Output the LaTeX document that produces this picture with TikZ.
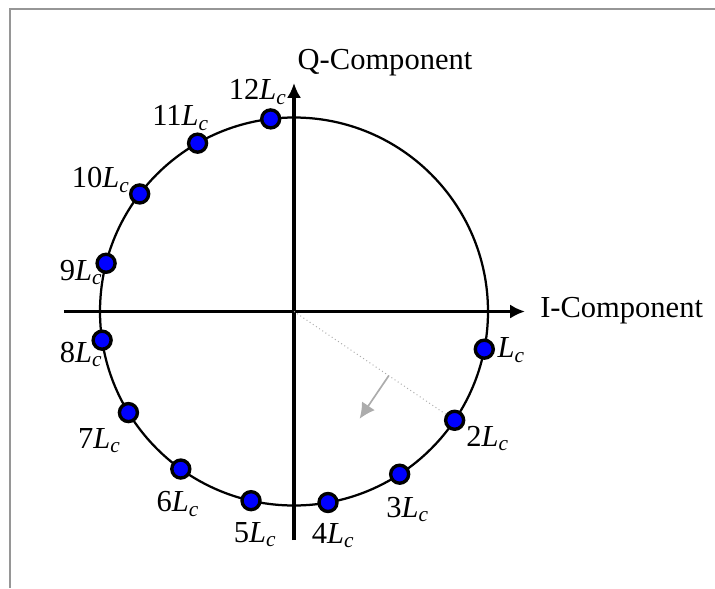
\documentclass[tikz,border=0pt]{standalone}
\usepackage{fontspec}
\setmainfont{Liberation Serif}
\usetikzlibrary{positioning,calc}
\usetikzlibrary{arrows.meta}
\definecolor{DotBlue}{RGB}{0,0,255}
\definecolor{FrameGray}{RGB}{150,150,150}
\definecolor{HintGray}{RGB}{172,172,172}
\newcommand{\Lc}{\textit{L}\textsubscript{\textit{c}}}
\tikzset{
  axis/.style={draw=black,line width=2.8pt,-{Latex[length=10.5pt,width=10pt]}},
  ring/.style={draw=black,line width=1.6pt},
  pt/.style={circle,draw=black,fill=DotBlue,line width=2.4pt,minimum size=12.8pt,inner sep=0pt},
  lbl/.style={font=\fontsize{21.7}{26}\selectfont,inner sep=0pt},
  radial/.style={draw=HintGray,line width=0.7pt,dotted},
  turn/.style={draw=HintGray,line width=1.2pt,-{Latex[length=11pt,width=11pt]}},
}

\begin{document}
\begin{tikzpicture}[x=0.025cm,y=0.025cm]
\useasboundingbox (-294,-276.5) rectangle (421,311.5);
\draw[FrameGray,line width=1.8pt] (421,302.5)--(-284,302.5)--(-284,-276.5);
\coordinate (o) at (0,0);
\coordinate (xl) at (-230,0);
\coordinate (xr) at (231,0);
\coordinate (yb) at (0,-228.5);
\coordinate (yt) at (0,228.5);
\coordinate (p1) at (-11.2:194);
\coordinate (p2) at (-34.1:194);
\coordinate (p3) at (-57.0:194);
\coordinate (p4) at (-79.9:194);
\coordinate (p5) at (-102.8:194);
\coordinate (p6) at (-125.7:194);
\coordinate (p7) at (-148.6:194);
\coordinate (p8) at (-171.5:194);
\coordinate (p9) at (165.6:194);
\coordinate (p10) at (142.7:194);
\coordinate (p11) at (119.8:194);
\coordinate (p12) at (96.9:194);
\draw[ring] (o) circle (194);
\draw[axis] (xl)--(xr);
\draw[axis] (yb)--(yt);
\node[lbl,anchor=west] (ilab) at ($(xr)+(15,0.5)$) {I-Component};
\node[lbl] (qlab) at (91,248.5) {Q-Component};
% hint of the rotation
\draw[radial] (o)--(p2);
\coordinate (a0) at ($(o)!0.59!(p2)$);
\coordinate (a1) at ($(a0)!1.3cm!-90:(p2)$);
\draw[turn] (a0)--(a1);
\node[pt] (d1) at (p1) {};
\node[pt] (d2) at (p2) {};
\node[pt] (d3) at (p3) {};
\node[pt] (d4) at (p4) {};
\node[pt] (d5) at (p5) {};
\node[pt] (d6) at (p6) {};
\node[pt] (d7) at (p7) {};
\node[pt] (d8) at (p8) {};
\node[pt] (d9) at (p9) {};
\node[pt] (d10) at (p10) {};
\node[pt] (d11) at (p11) {};
\node[pt] (d12) at (p12) {};
\node[lbl] (t1) at ([shift={(27,-1)}]p1) {\Lc};
\node[lbl] (t2) at ([shift={(33,-18)}]p2) {2\Lc};
\node[lbl] (t3) at ([shift={(8,-35)}]p3) {3\Lc};
\node[lbl] (t4) at ([shift={(5,-33)}]p4) {4\Lc};
\node[lbl] (t5) at ([shift={(4,-34)}]p5) {5\Lc};
\node[lbl] (t6) at ([shift={(-3,-35)}]p6) {6\Lc};
\node[lbl] (t7) at ([shift={(-29,-28)}]p7) {7\Lc};
\node[lbl] (t8) at ([shift={(-21,-14)}]p8) {8\Lc};
\node[lbl] (t9) at ([shift={(-25,-9)}]p9) {9\Lc};
\node[lbl] (t10) at ([shift={(-39,14)}]p10) {10\Lc};
\node[lbl] (t11) at ([shift={(-17,25)}]p11) {11\Lc};
\node[lbl] (t12) at ([shift={(-13,27)}]p12) {12\Lc};
\end{tikzpicture}
\end{document}
